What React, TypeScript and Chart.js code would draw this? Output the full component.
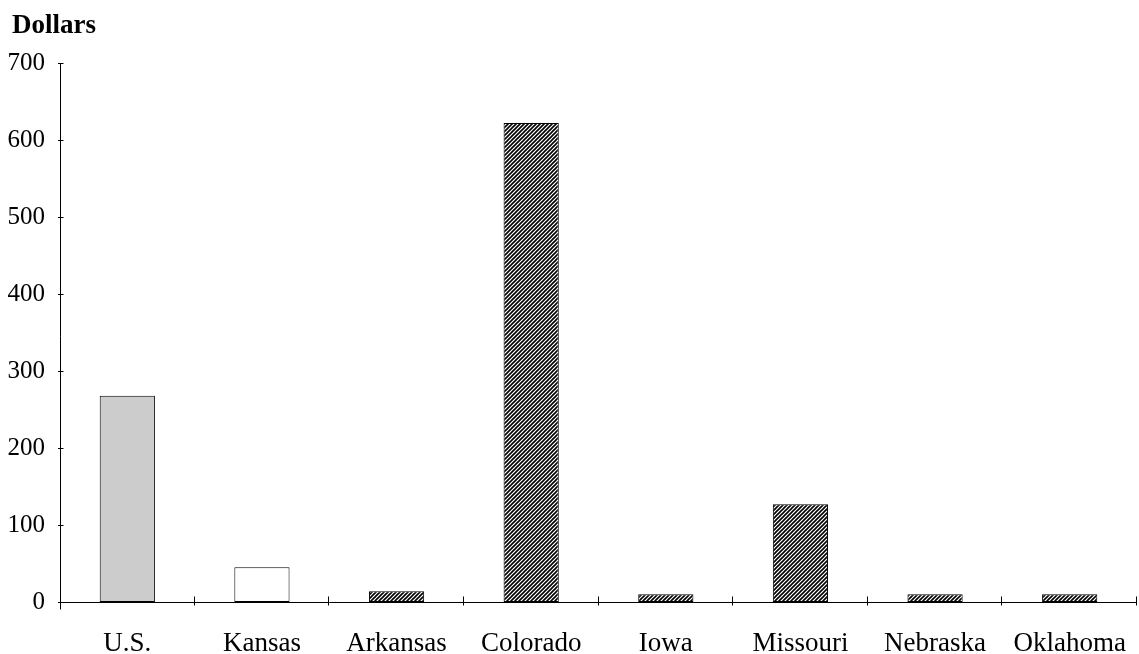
import React, { useEffect, useRef } from "react";
import { Chart, registerables } from "chart.js";

Chart.register(...registerables);

// Spending per state, dollars
const categories = ["U.S.", "Kansas", "Arkansas", "Colorado", "Iowa", "Missouri", "Nebraska", "Oklahoma"];
const values = [268, 45, 14, 622, 10, 127, 10, 10];
// fill style per bar: solid grey, plain white, or diagonal hatch
const fillKinds = ["grey", "white", "hatch", "hatch", "hatch", "hatch", "hatch", "hatch"];
const yTicks = [0, 100, 200, 300, 400, 500, 600, 700];
const yTitle = "Dollars";

const SERIF = "'Liberation Serif', 'Times New Roman', serif";

function makeHatch(): CanvasPattern | string {
  const size = 4;
  const c = document.createElement("canvas");
  c.width = size;
  c.height = size;
  const g = c.getContext("2d");
  if (!g) return "#000";
  g.fillStyle = "#fff";
  g.fillRect(0, 0, size, size);
  g.strokeStyle = "#000";
  g.lineWidth = 1.6;
  g.beginPath();
  g.moveTo(-1, size + 1);
  g.lineTo(size + 1, -1);
  g.moveTo(-1, 1);
  g.lineTo(1, -1);
  g.moveTo(size - 1, size + 1);
  g.lineTo(size + 1, size - 1);
  g.stroke();
  return g.createPattern(c, "repeat") || "#000";
}

// Axis lines, small crossing tick marks and the y-axis title
const axisPlugin = {
  id: "axisDecor",
  afterDraw(chart: any) {
    const { ctx, chartArea, scales } = chart;
    const x = scales.x;
    const y = scales.y;
    ctx.save();
    ctx.strokeStyle = "#000";
    ctx.lineWidth = 1;
    const left = Math.round(chartArea.left) + 0.5;
    const bottom = Math.round(y.getPixelForValue(0)) + 0.5;
    // y axis line
    ctx.beginPath();
    ctx.moveTo(left, Math.round(y.getPixelForValue(700)));
    ctx.lineTo(left, bottom + 7);
    ctx.stroke();
    // x axis line
    ctx.beginPath();
    ctx.moveTo(left, bottom);
    ctx.lineTo(chartArea.right, bottom);
    ctx.stroke();
    // y tick marks
    yTicks.forEach((v) => {
      const py = Math.round(y.getPixelForValue(v)) + 0.5;
      ctx.beginPath();
      ctx.moveTo(left - 2.5, py);
      ctx.lineTo(left + 3, py);
      ctx.stroke();
    });
    // x tick marks at category boundaries
    for (let i = 0; i < categories.length; i++) {
      const a = x.getPixelForValue(i);
      const b = i + 1 < categories.length ? x.getPixelForValue(i + 1) : a + (a - x.getPixelForValue(i - 1));
      const px = Math.round((a + b) / 2) - 0.5;
      ctx.beginPath();
      ctx.moveTo(px, bottom - 6);
      ctx.lineTo(px, bottom + 3);
      ctx.stroke();
    }
    // axis title
    ctx.fillStyle = "#000";
    ctx.font = `bold 27px ${SERIF}`;
    ctx.textAlign = "left";
    ctx.textBaseline = "alphabetic";
    ctx.fillText(yTitle, 12, 33);
    ctx.restore();
  },
};

export default function App() {
  const canvasRef = useRef<HTMLCanvasElement | null>(null);

  useEffect(() => {
    if (!canvasRef.current) return;
    const hatch = makeHatch();
    const fills = fillKinds.map((k) => (k === "grey" ? "#cccccc" : k === "white" ? "#ffffff" : hatch));

    const chart = new Chart(canvasRef.current, {
      type: "bar",
      data: {
        labels: categories,
        datasets: [
          {
            data: values,
            backgroundColor: fills as any,
            borderColor: "#000",
            borderWidth: 1,
            borderSkipped: false,
            categoryPercentage: 1,
            barPercentage: 0.41,
          },
        ],
      },
      options: {
        animation: false,
        responsive: true,
        maintainAspectRatio: false,
        layout: { padding: { top: 63, right: 2, left: 0, bottom: 0 } },
        plugins: {
          legend: { display: false },
          title: { display: false },
          tooltip: { enabled: false },
        },
        scales: {
          x: {
            grid: { display: false, drawTicks: false },
            border: { display: false },
            ticks: {
              color: "#000",
              font: { family: SERIF, size: 27 },
              padding: 26,
              maxRotation: 0,
              autoSkip: false,
            },
            afterFit(scale: any) {
              scale.height = 52;
              scale.paddingLeft = 0;
              scale.paddingRight = 0;
            },
          },
          y: {
            min: 0,
            max: 700,
            grid: { display: false, drawTicks: false },
            border: { display: false },
            ticks: {
              stepSize: 100,
              color: "#000",
              font: { family: SERIF, size: 25 },
              padding: 15,
            },
            afterFit(scale: any) {
              scale.width = 60;
              scale.paddingTop = 0;
              scale.paddingBottom = 0;
            },
          },
        },
      },
      plugins: [axisPlugin],
    });
    return () => chart.destroy();
  }, []);

  return (
    <div style={{ position: "fixed", left: 0, top: 0, width: 1139, height: 654, background: "#fff" }}>
      <canvas ref={canvasRef} />
    </div>
  );
}
